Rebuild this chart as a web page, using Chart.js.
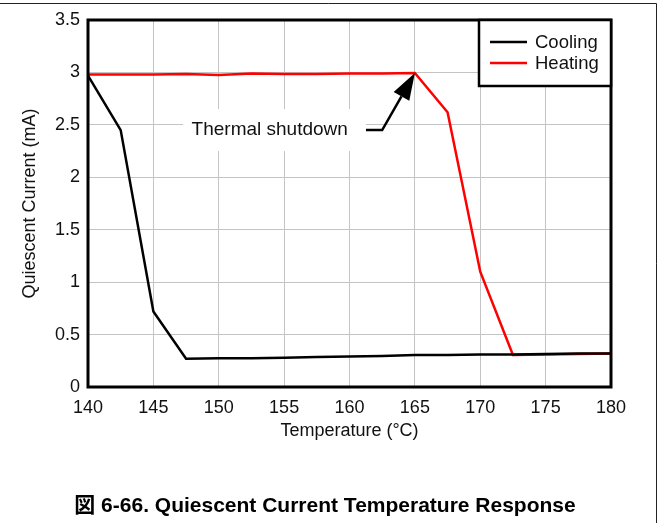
<!DOCTYPE html>
<html>
<head>
<meta charset="utf-8">
<script src="https://cdn.jsdelivr.net/npm/chart.js@4.4.1/dist/chart.umd.min.js"></script>
<style>
  html, body { margin: 0; padding: 0; background: #fff; }
  #wrap { position: relative; width: 658px; height: 523px; }
</style>
</head>
<body>
<div id="wrap"><canvas id="qChart" width="658" height="523"></canvas></div>
<script>
// temperature steps (°C)
const temps = [140, 142.5, 145, 147.5, 150, 152.5, 155, 157.5, 160, 162.5, 165, 167.5, 170, 172.5, 175, 177.5, 180];
// quiescent current (mA)
const cooling = [2.97, 2.45, 0.72, 0.27, 0.275, 0.275, 0.28, 0.285, 0.29, 0.295, 0.305, 0.305, 0.31, 0.31, 0.315, 0.32, 0.32];
const heating = [2.98, 2.98, 2.98, 2.985, 2.975, 2.99, 2.985, 2.985, 2.99, 2.99, 2.995, 2.62, 1.10, 0.305, 0.31, 0.315, 0.32];
const xTicks = [140, 145, 150, 155, 160, 165, 170, 175, 180];
const yTicks = [0, 0.5, 1, 1.5, 2, 2.5, 3, 3.5];
const seriesNames = ['Cooling', 'Heating'];
const seriesColors = ['#000000', '#ff0000'];
const figTitle = '図 6-66. Quiescent Current Temperature Response';

const FONT = '"Liberation Sans", Arial, "Noto Sans CJK JP", sans-serif';

function toPoints(ys) {
  return temps.map((t, i) => ({ x: t, y: ys[i] }));
}

// frame, plot border, annotation, legend and caption
const extras = {
  id: 'extras',
  afterDatasetsDraw(chart) {
    const ctx = chart.ctx;
    const a = chart.chartArea;
    const xs = chart.scales.x, ys = chart.scales.y;
    ctx.save();

    // plot border
    ctx.strokeStyle = '#000';
    ctx.lineWidth = 3;
    ctx.strokeRect(a.left, a.top, a.right - a.left, a.bottom - a.top);

    // Thermal shutdown callout
    const bx1 = xs.getPixelForValue(147.27), bx2 = xs.getPixelForValue(161.26);
    const by1 = ys.getPixelForValue(2.65), by2 = ys.getPixelForValue(2.25);
    ctx.fillStyle = '#fff';
    ctx.fillRect(bx1, by1, bx2 - bx1, by2 - by1);
    ctx.fillStyle = '#111';
    ctx.font = '19px ' + FONT;
    ctx.textAlign = 'center';
    ctx.textBaseline = 'middle';
    ctx.fillText('Thermal shutdown', xs.getPixelForValue(153.9), ys.getPixelForValue(2.45));

    const sx = bx2, sy = ys.getPixelForValue(2.45);
    const ex = xs.getPixelForValue(162.5);
    const tx = xs.getPixelForValue(165), ty = ys.getPixelForValue(2.995);
    const ang = Math.atan2(ty - sy, tx - ex);
    const headLen = 27, headW = 9;
    const baseX = tx - headLen * Math.cos(ang), baseY = ty - headLen * Math.sin(ang);
    ctx.strokeStyle = '#000';
    ctx.lineWidth = 2.5;
    ctx.beginPath();
    ctx.moveTo(sx, sy);
    ctx.lineTo(ex, sy);
    ctx.lineTo(baseX, baseY);
    ctx.stroke();
    ctx.fillStyle = '#000';
    ctx.beginPath();
    ctx.moveTo(tx, ty);
    ctx.lineTo(baseX + headW * Math.sin(ang), baseY - headW * Math.cos(ang));
    ctx.lineTo(baseX - headW * Math.sin(ang), baseY + headW * Math.cos(ang));
    ctx.closePath();
    ctx.fill();

    // legend box in the top right corner
    const lw = 132, lh = 66;
    const lx = a.right - lw, ly = a.top;
    ctx.fillStyle = '#fff';
    ctx.fillRect(lx, ly, lw, lh);
    ctx.lineWidth = 2.5;
    ctx.strokeStyle = '#000';
    ctx.strokeRect(lx, ly, lw, lh);
    ctx.font = '18.5px ' + FONT;
    ctx.textAlign = 'left';
    chart.data.datasets.forEach((ds, i) => {
      const rowY = ly + 22 + i * 21;
      ctx.strokeStyle = ds.borderColor;
      ctx.lineWidth = 2.5;
      ctx.beginPath();
      ctx.moveTo(lx + 11, rowY);
      ctx.lineTo(lx + 48, rowY);
      ctx.stroke();
      ctx.fillStyle = '#111';
      ctx.fillText(ds.label, lx + 56, rowY + 1);
    });

    // page frame lines
    ctx.strokeStyle = '#222';
    ctx.lineWidth = 1;
    ctx.beginPath();
    ctx.moveTo(0, 3.5);
    ctx.lineTo(656.5, 3.5);
    ctx.lineTo(656.5, 523);
    ctx.stroke();

    // caption
    ctx.fillStyle = '#000';
    ctx.font = 'bold 21px ' + FONT;
    ctx.textAlign = 'center';
    ctx.fillText(figTitle, 325, 506);
    ctx.restore();
  }
};

const ctx = document.getElementById('qChart').getContext('2d');
new Chart(ctx, {
  type: 'line',
  data: {
    datasets: [
      { label: seriesNames[0], data: toPoints(cooling), borderColor: seriesColors[0], borderWidth: 2.5, pointRadius: 0, tension: 0 },
      { label: seriesNames[1], data: toPoints(heating), borderColor: seriesColors[1], borderWidth: 2.5, pointRadius: 0, tension: 0 }
    ]
  },
  options: {
    responsive: false,
    animation: false,
    layout: { padding: { top: 20, right: 47, left: 0, bottom: 0 } },
    plugins: { legend: { display: false }, tooltip: { enabled: false } },
    scales: {
      x: {
        type: 'linear',
        min: 140, max: 180,
        afterBuildTicks: s => { s.ticks = xTicks.map(v => ({ value: v })); },
        afterFit: s => { s.height = 136; },
        grid: { color: '#c4c4c4', lineWidth: 1, drawTicks: false },
        border: { display: false },
        ticks: { color: '#111', font: { family: FONT, size: 18 }, padding: 10, maxRotation: 0, callback: v => String(v) },
        title: { display: true, text: 'Temperature (°C)', color: '#111', font: { family: FONT, size: 18 }, padding: { top: 0, bottom: 81 } }
      },
      y: {
        min: 0, max: 3.5,
        afterBuildTicks: s => { s.ticks = yTicks.map(v => ({ value: v })); },
        afterFit: s => { s.width = 88; },
        grid: { color: '#c4c4c4', lineWidth: 1, drawTicks: false },
        border: { display: false },
        ticks: { color: '#111', font: { family: FONT, size: 18 }, padding: 8, callback: v => String(v) },
        title: { display: true, text: 'Quiescent Current (mA)', color: '#111', font: { family: FONT, size: 18 }, padding: { top: 19, bottom: 0 } }
      }
    }
  },
  plugins: [extras]
});
</script>
</body>
</html>
